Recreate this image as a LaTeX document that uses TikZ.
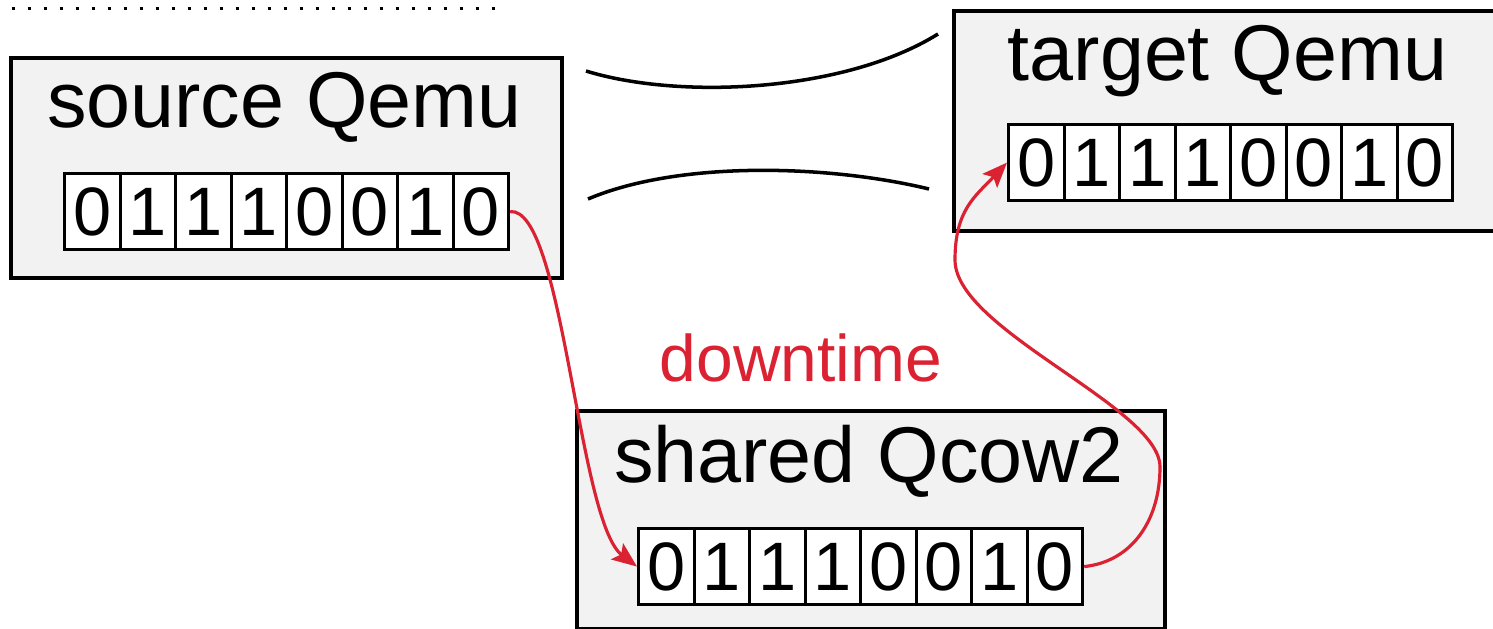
\documentclass[tikz,border=0pt]{standalone}
\usepackage{fontspec}
\setmainfont{Liberation Sans}
\usepackage{xcolor}
\usepackage{tikz}
\usetikzlibrary{arrows.meta,positioning}

\definecolor{boxgray}{HTML}{F2F2F2}
\definecolor{downred}{HTML}{DB2232}

\tikzset{
qbox/.style={draw, line width=2.2pt, fill=boxgray, rectangle, inner sep=0pt, anchor=north west},
qtitle/.style={anchor=base, inner sep=0pt, font=\fontsize{45}{50}\selectfont},
bit/.style={draw, line width=1.8pt, fill=white, rectangle, inner sep=0pt, anchor=north west,
  minimum width=11.1mm, minimum height=15.2mm, font=\fontsize{39}{40}\selectfont},
wire/.style={line width=2pt},
copyarrow/.style={draw=downred, line width=1.8pt, -{Stealth[length=5mm,width=4mm,inset=1mm]}}
}

\newcommand{\bitrow}[3]{
\foreach \val [count=\i] in {0,1,1,1,0,0,1,0}
  \node[bit] (#1-\i) at (#2+55.5*\i-55.5, #3) {\val};
}

\begin{document}
\begin{tikzpicture}[x=0.2mm, y=-0.2mm]
\useasboundingbox (0,0) rectangle (1493,629);
\clip (0,0) rectangle (1493,629);

\draw[line width=0.6mm, dash pattern=on 0.6mm off 2.6mm] (11.5,9) -- (495,9);

\node[qbox, minimum width=110.2mm, minimum height=44mm] (src) at (9,56) {};
\node[qbox, minimum width=110.2mm, minimum height=44mm] (tgt) at (952,9) {};
\node[qbox, minimum width=117.6mm, minimum height=43.6mm] (shr) at (575,409) {};

\node[qtitle] (srctitle) at (284.5,128) {source Qemu};
\node[qtitle] (tgttitle) at (1227.5,81) {target Qemu};
\node[qtitle] (shrtitle) at (869,482) {shared Qcow2};

\bitrow{src}{63}{172}
\bitrow{tgt}{1007}{123}
\bitrow{shr}{637}{527}

\node[anchor=base, inner sep=0pt, text=downred, font=\fontsize{37.5}{40}\selectfont] (down) at (801,382) {downtime};

\coordinate (linkatop) at (586,71);
\coordinate (linkbtop) at (938,34);
\coordinate (linkabot) at (588,199);
\coordinate (linkbbot) at (929,189);
\draw[wire] (linkatop) .. controls (680,100) and (845,92) .. (linkbtop);
\draw[wire] (linkabot) .. controls (680,160) and (830,165) .. (linkbbot);

\coordinate (bendr) at (1160,467);
\coordinate (bendl) at (955,260);
\draw[copyarrow] (src-8.east) .. controls +(53,-5) and +(-59,-45) .. (shr-1.west);
\draw[copyarrow] (shr-8.east) .. controls +(48,-5) and +(0,53) .. (bendr)
  .. controls +(0,-60) and +(0,70) .. (bendl)
  .. controls +(0,-50) and +(-32,34) .. (tgt-1.west);
\end{tikzpicture}
\end{document}
